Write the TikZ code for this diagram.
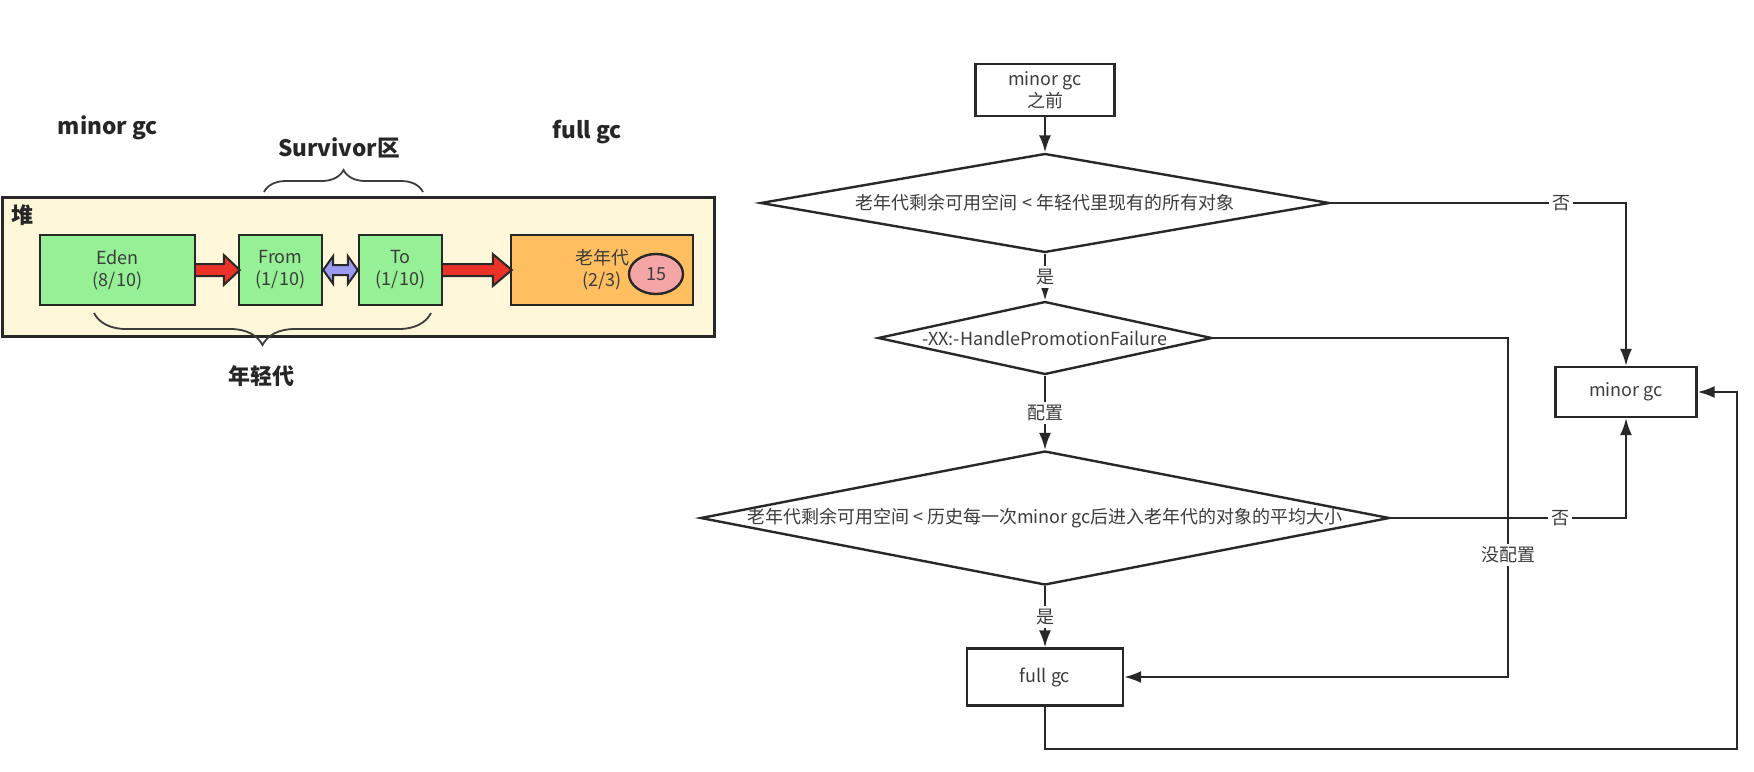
\documentclass[tikz,border=0pt]{standalone}
\usepackage{fontspec}
\setmainfont{Noto Sans CJK SC}
\usepackage{tikz}
\usetikzlibrary{shapes.geometric, positioning, arrows, arrows.meta, calc,
  decorations.pathreplacing}

\definecolor{heapbg}{RGB}{255,247,218}
\definecolor{edengreen}{RGB}{150,240,150}
\definecolor{oldorange}{RGB}{255,190,95}
\definecolor{agepink}{RGB}{245,165,165}
\definecolor{moveRed}{RGB}{235,50,40}
\definecolor{swapBlue}{RGB}{155,155,240}
\definecolor{lineDark}{RGB}{40,40,40}
\definecolor{txtGray}{RGB}{60,60,60}

\tikzset{
  genbox/.style={draw=lineDark, line width=1.2pt, inner sep=0pt, align=center,
    text=txtGray, minimum height=35pt, font=\fontsize{9}{11}\selectfont},
  flowbox/.style={draw=lineDark, line width=1.2pt, inner sep=0pt, align=center,
    text=txtGray, font=\fontsize{9}{11}\selectfont},
  decision/.style={diamond, draw=lineDark, line width=1.2pt, inner sep=0pt,
    text=txtGray, font=\fontsize{9}{11}\selectfont},
  flowline/.style={draw=lineDark, line width=1pt, -{Latex[length=8.5pt, width=6pt]}},
  edgelabel/.style={fill=white, inner sep=1.5pt, text=txtGray,
    font=\fontsize{9}{11}\selectfont},
  headline/.style={text=black!85, font=\fontsize{11.3}{13}\selectfont\bfseries},
  brace/.style={draw=lineDark!90, line width=0.9pt, decorate},
  blockarrow/.style={draw=lineDark, line width=1pt, line join=miter},
}

\begin{document}
\begin{tikzpicture}[x=0.5pt, y=-0.5pt]
      \fill [white] (0,0) rectangle (1754,771);%
      \useasboundingbox (0,0) rectangle (1754,771);%

      % heap
      \node [draw=lineDark, line width=1.5pt, fill=heapbg, inner sep=0pt,
      minimum width=356pt, minimum height=69.5pt] (Heap) at (358,266.5) {};%
      \node [headline, font=\fontsize{11}{13}\selectfont\bfseries] (HeapTitle)
      at (22,215) {堆};%

      % generations
      \node [genbox, fill=edengreen, minimum width=77.5pt] (Eden) at (117.5,270)
      {Eden\\(8/10)};%
      \node [genbox, fill=edengreen, minimum width=41.5pt] (From) at (280.5,270)
      {From\\(1/10)};%
      \node [genbox, fill=edengreen, minimum width=41.5pt] (To) at (400.5,270)
      {To\\(1/10)};%
      \node [genbox, fill=oldorange, minimum width=91pt] (Old) at (602,270)
      {老年代\\(2/3)};%
      \node [ellipse, draw=lineDark, line width=1.2pt, fill=agepink, inner sep=0pt,
      minimum width=27pt, minimum height=20pt, text=txtGray,
      font=\fontsize{9}{11}\selectfont] (Age) at (656,274) {15};%

      % block arrows
      \draw [blockarrow, fill=moveRed] ($(Eden.east)+(0,-6)$) --
      ($(From.west)+(-14,-6)$) -- ($(From.west)+(-14,-15)$) -- ([xshift=1pt]From.west)
      -- ($(From.west)+(-14,15)$) -- ($(From.west)+(-14,6)$) -- ($(Eden.east)+(0,6)$);%
      \draw [blockarrow, fill=swapBlue] (From.east) -- ($(From.east)+(10,-14)$) --
      ($(From.east)+(10,-5)$) -- ($(To.west)+(-10,-5)$) -- ($(To.west)+(-10,-14)$) --
      (To.west) -- ($(To.west)+(-10,14)$) -- ($(To.west)+(-10,5)$) --
      ($(From.east)+(10,5)$) -- ($(From.east)+(10,14)$) -- cycle;%
      \draw [blockarrow, fill=moveRed] ($(To.east)+(0,-6)$) --
      ($(Old.west)+(-17,-6)$) -- ($(Old.west)+(-17,-16)$) -- ([xshift=1pt]Old.west)
      -- ($(Old.west)+(-17,16)$) -- ($(Old.west)+(-17,6)$) -- ($(To.east)+(0,6)$);%

      % braces
      \draw [brace, decoration={brace, amplitude=11pt}] (264,192) -- (423,192);%
      \draw [brace, decoration={brace, amplitude=16pt}] (431,313) -- (94,313);%

      % titles
      \node [headline] (MinorTitle) at (108,128) {minor gc};%
      \node [headline] (FullTitle) at (587,132) {full gc};%
      \node [headline] (SurvivorTitle) at (339,148) {Survivor区};%
      \node [headline, font=\fontsize{11}{13}\selectfont\bfseries] (YoungTitle)
      at (261,376) {年轻代};%

      % flow chart
      \node [flowbox, minimum width=69.5pt, minimum height=26pt] (Start)
      at (1045,90) {minor gc\\之前};%
      \node [decision, minimum width=284.5pt, minimum height=49.5pt] (D1)
      at (1045,203) {\makebox[0pt]{老年代剩余可用空间 < 年轻代里现有的所有对象}};%
      \node [decision, minimum width=167pt, minimum height=36.5pt] (D2)
      at (1045,338) {\makebox[0pt]{-XX:-HandlePromotionFailure}};%
      \node [decision, minimum width=344.5pt, minimum height=67pt] (D3)
      at (1045,518) {\makebox[0pt]{老年代剩余可用空间 < 历史每一次minor gc后进入老年代的对象的平均大小}};%
      \node [flowbox, minimum width=78pt, minimum height=28.5pt] (FullGC)
      at (1045,677) {full gc};%
      \node [flowbox, minimum width=70.5pt, minimum height=25pt] (MinorGC)
      at (1626,392) {minor gc};%
      \coordinate (Rcol) at (1508,338);%
      \coordinate (Loop) at (1737,749);%

      % arrows
      \draw [flowline] (Start.south) -- (D1.north);%
      \draw [flowline] (D1.south) -- node [edgelabel] {是} (D2.north);%
      \draw [flowline] (D2.south) -- node [edgelabel] {配置} (D3.north);%
      \draw [flowline] (D3.south) -- node [edgelabel] {是} (FullGC.north);%
      \draw [flowline] (D1.east) -| node [edgelabel, pos=0.39] {否} (MinorGC.north);%
      \draw [flowline] (D3.east) -| node [edgelabel, pos=0.36] {否} (MinorGC.south);%
      \draw [flowline] (D2.east) -- (Rcol) |- node [edgelabel, pos=0.32] {没配置}
      (FullGC.east);%
      \draw [flowline] (FullGC.south) |- (Loop) |- (MinorGC.east);%
    \end{tikzpicture}
\end{document}
